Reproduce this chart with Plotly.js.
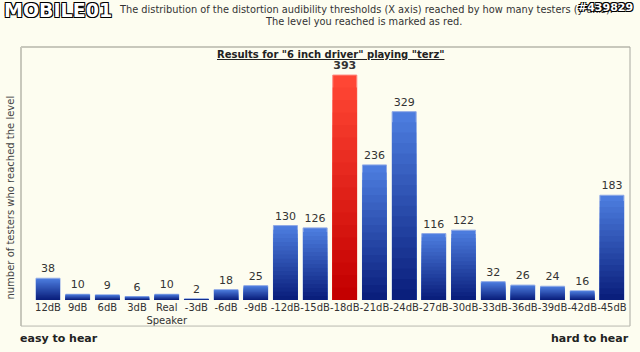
<!DOCTYPE html>
<html>
<head>
<meta charset="utf-8">
<script src="https://cdn.plot.ly/plotly-3.0.1.min.js"></script>
<style>
  html, body { margin: 0; padding: 0; background: #fdfdf0; }
  #chart { width: 640px; height: 352px; }
</style>
</head>
<body>
<div id="chart"></div>
<script>
// ---- data ----
const categories = ["12dB", "9dB", "6dB", "3dB", "Real<br>Speaker", "-3dB", "-6dB", "-9dB", "-12dB", "-15dB",
                    "-18dB", "-21dB", "-24dB", "-27dB", "-30dB", "-33dB", "-36dB", "-39dB", "-42dB", "-45dB"];
const testers = [38, 10, 9, 6, 10, 2, 18, 25, 130, 126, 393, 236, 329, 116, 122, 32, 26, 24, 16, 183];
const highlightLabel = "-18dB";
const chartTitle = 'Results for "6 inch driver" playing "terz"';
const yTitle = "number of testers who reached the level";
const headerLine1 = "The distribution of the distortion audibility thresholds (X axis) reached by how many testers (y axis).";
const headerLine2 = "The level you reached is marked as red.";
const leftNote = "easy to hear";
const rightNote = "hard to hear";

// ---- styling helpers ----
function mix(c1, c2, t) {
  const a = c1.match(/\w\w/g).map(h => parseInt(h, 16));
  const b = c2.match(/\w\w/g).map(h => parseInt(h, 16));
  return "rgb(" + a.map((v, i) => Math.round(v + (b[i] - v) * t)).join(",") + ")";
}
const isHi = categories.map(c => c === highlightLabel);
const blueTop = "4c7cde", blueBot = "0a1f7c";
const redTop = "ff4634", redBot = "c40000";

const nLayers = 18;
const layers = Array.from({ length: nLayers }, (_, i) => 1 - i / nLayers);
const traces = layers.map((k, li) => {
  const t = li / (nLayers - 1);
  return {
    type: "bar",
    x: categories,
    y: testers.map(v => v * k),
    marker: {
      color: isHi.map(h => h ? mix(redTop, redBot, t) : mix(blueTop, blueBot, t)),
      line: li === 0 ? { color: isHi.map(h => h ? "#ff8a80" : "#8fa9e6"), width: 1 } : { width: 0 }
    },
    text: li === 0 ? testers.map((v, i) => isHi[i] ? "<b>" + v + "</b>" : String(v)) : undefined,
    textposition: li === 0 ? "outside" : "none",
    textfont: { family: "DejaVu Sans, Verdana, sans-serif", size: 11, color: "#333" },
    cliponaxis: false,
    hoverinfo: "skip",
    showlegend: false
  };
});

const outline = "1px 1px 0 #000, -1px -1px 0 #000, 1px -1px 0 #000, -1px 1px 0 #000";

const layout = {
  width: 640, height: 352,
  margin: { l: 21, r: 10, t: 47, b: 52 },
  paper_bgcolor: "#fdfdf0",
  plot_bgcolor: "#fdfdf0",
  barmode: "overlay",
  bargap: 0.19,
  font: { family: "DejaVu Sans, Verdana, sans-serif", size: 11, color: "#333" },
  xaxis: {
    type: "category",
    range: [-0.91, 19.61],
    showgrid: false, zeroline: false, showline: false,
    ticks: "", ticklen: 0,
    tickangle: 0,
    tickfont: { size: 10, color: "#333" },
    fixedrange: true
  },
  yaxis: {
    range: [0, 442],
    showgrid: false, zeroline: false, showline: false,
    showticklabels: false, ticks: "",
    fixedrange: true
  },
  shapes: [
    { type: "line", xref: "paper", yref: "paper", x0: 0, x1: 0, y0: -0.103, y1: 1, line: { color: "#c8c8bc", width: 2 } },
    { type: "line", xref: "paper", yref: "paper", x0: 0, x1: 1, y0: 1, y1: 1, line: { color: "#c8c8bc", width: 2 } },
    { type: "line", xref: "paper", yref: "paper", x0: 1, x1: 1, y0: -0.103, y1: 1, line: { color: "#a8a8a0", width: 1 } },
    { type: "line", xref: "paper", yref: "paper", x0: 0, x1: 1, y0: -0.103, y1: -0.103, line: { color: "#b8b8b0", width: 1 } }
  ],
  annotations: [
    { xref: "paper", yref: "paper", x: 0.508, y: 0.972, text: "<u><b>" + chartTitle + "</b></u>",
      showarrow: false, font: { size: 10, color: "#222" }, xanchor: "center", yanchor: "middle" },
    { xref: "paper", yref: "paper", x: -0.018, y: 0.405, text: yTitle, textangle: -90,
      showarrow: false, font: { size: 10, color: "#444" }, xanchor: "center", yanchor: "middle" },
    { xref: "paper", yref: "paper", x: -0.005, y: -0.154, text: "<b>" + leftNote + "</b>",
      showarrow: false, font: { size: 11, color: "#222" }, xanchor: "left", yanchor: "middle" },
    { xref: "paper", yref: "paper", x: 1.0016, y: -0.154, text: "<b>" + rightNote + "</b>",
      showarrow: false, font: { size: 11, color: "#222" }, xanchor: "right", yanchor: "middle" },
    { xref: "paper", yref: "paper", x: 0.975, y: 1.150, text: headerLine1,
      showarrow: false, font: { size: 9.8, color: "#333" }, xanchor: "right", yanchor: "middle" },
    { xref: "paper", yref: "paper", x: 0.563, y: 1.099, text: headerLine2,
      showarrow: false, font: { size: 9.8, color: "#333" }, xanchor: "center", yanchor: "middle" },
    { xref: "paper", yref: "paper", x: -0.031, y: 1.146, text: "<b>MOBILE01</b>",
      showarrow: false,
      font: { size: 19, color: "#ffffff", family: "DejaVu Sans, sans-serif", shadow: outline },
      xanchor: "left", yanchor: "middle" },
    { xref: "paper", yref: "paper", x: 1.008, y: 1.155, text: "<b>#439829</b>",
      showarrow: false,
      font: { size: 11, color: "#ffffff", shadow: outline },
      xanchor: "right", yanchor: "middle" }
  ]
};

Plotly.newPlot("chart", traces, layout, { displayModeBar: false, staticPlot: true });
</script>
</body>
</html>
